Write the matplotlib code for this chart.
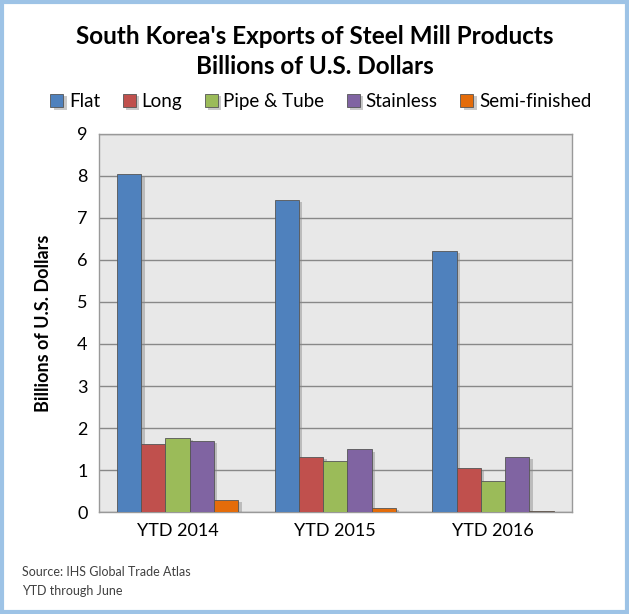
import numpy as np
import matplotlib
matplotlib.use("Agg")
from matplotlib import pyplot as plt
from matplotlib import patheffects as pe
from matplotlib.patches import Rectangle

plt.rcParams['font.family'] = ['Lato', 'DejaVu Sans']

# data
years = ['YTD 2014', 'YTD 2015', 'YTD 2016']
series = ['Flat', 'Long', 'Pipe & Tube', 'Stainless', 'Semi-finished']
flat = [8.05, 7.42, 6.22]
long_ = [1.62, 1.32, 1.05]
pipe = [1.76, 1.22, 0.75]
stainless = [1.70, 1.49, 1.31]
semi = [0.29, 0.09, 0.03]
colors = ['#4F81BD', '#C0504D', '#9BBB59', '#8064A2', '#E46C0A']

values = [flat, long_, pipe, stainless, semi]

fig = plt.figure(figsize=(6.29, 6.14), dpi=100)
ax = fig.add_axes([0.157, 0.166, 0.752, 0.616])
ax.set_facecolor('#e8e8e8')

x = np.arange(len(years))
w = 0.154
shadow = [pe.SimplePatchShadow(offset=(2.5, -1.5), shadow_rgbFace='#888888', alpha=0.45), pe.Normal()]
for i, (name, vals) in enumerate(zip(series, values)):
    bars = ax.bar(x + (i - 2) * w, vals, w, color=colors[i], label=name,
                  edgecolor='#555555', linewidth=0.6, zorder=3)
    for b in bars:
        b.set_path_effects(shadow)

ax.set_xlim(-0.5, 2.5)
ax.set_ylim(0, 9)
ax.set_yticks(range(0, 10))
ax.set_xticks(x)
ax.set_xticklabels(years)
ax.grid(axis='y', color='#888888', linewidth=1.0, zorder=0)
ax.tick_params(axis='both', labelsize=13, length=0, pad=8, colors='black')
for s in ax.spines.values():
    s.set_color('#999999')
    s.set_linewidth(1.0)

ax.set_ylabel('Billions of U.S. Dollars', fontsize=13, fontweight='bold', labelpad=18)

fig.text(0.5, 0.94, "South Korea's Exports of Steel Mill Products", ha='center', va='center',
         fontsize=17.5, fontweight='bold')
fig.text(0.5, 0.891, 'Billions of U.S. Dollars', ha='center', va='center',
         fontsize=17.5, fontweight='bold')

fig.legend(loc='center', bbox_to_anchor=(0.51, 0.834), ncol=5, frameon=False, fontsize=13.5,
           handlelength=0.7, handleheight=0.7, handletextpad=0.3, columnspacing=1.2)

fig.text(0.035, 0.068, 'Source: IHS Global Trade Atlas', fontsize=9, color='#404040', va='center')
fig.text(0.035, 0.038, 'YTD through June', fontsize=9, color='#404040', va='center')

# light blue frame round the picture
fig.patches.append(Rectangle((0.003, 0.003), 0.994, 0.994, transform=fig.transFigure,
                             fill=False, edgecolor='#9dc3e6', linewidth=3))

plt.savefig('out.png', dpi=100)
